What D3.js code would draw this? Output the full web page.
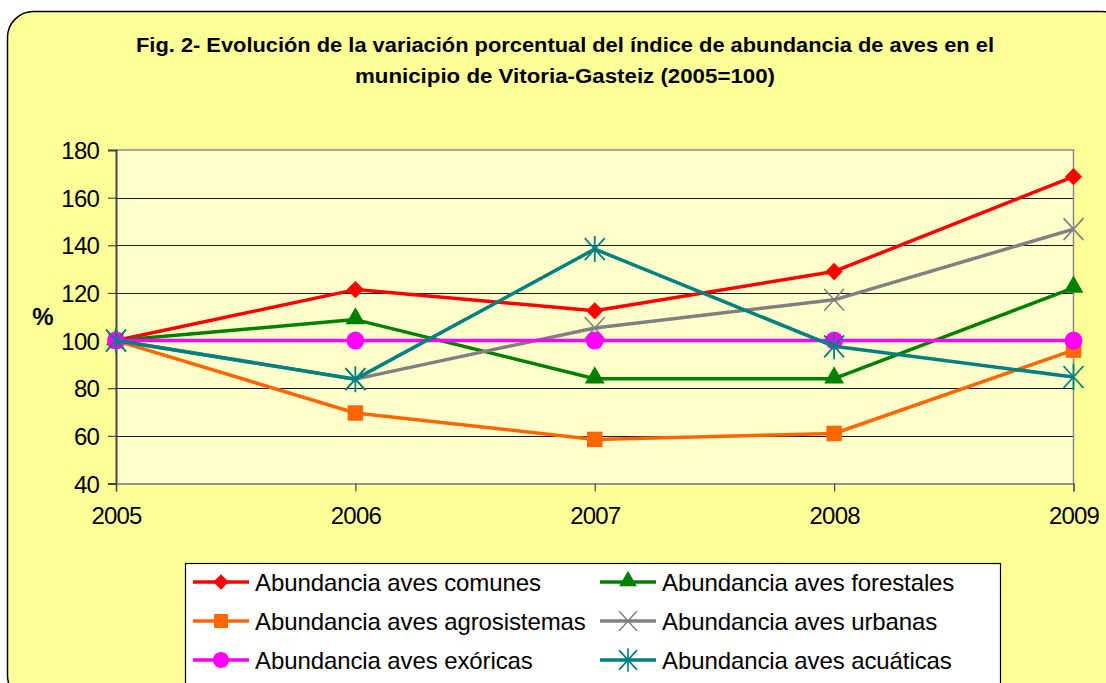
<!doctype html>
<html>
<head>
<meta charset="UTF-8" />
<script src="https://d3js.org/d3.v7.min.js"></script>
<style>
  html, body { margin: 0; padding: 0; background: #ffffff; }
  svg { display: block; font-family: "Liberation Sans", Arial, sans-serif; }
</style>
</head>
<body>
<svg id="chart" width="1106" height="683"></svg>
<script>
(function(){
  "use strict";

  // ---- data ----
  const years = [2005, 2006, 2007, 2008, 2009];
  const yTicks = [40, 60, 80, 100, 120, 140, 160, 180];
  const comunes      = [100, 121.4, 112.5, 129.0, 168.8];
  const forestales   = [100, 108.8, 84.0, 84.0, 122.1];
  const agrosistemas = [100, 69.6, 58.5, 61.0, 96.0];
  const urbanas      = [100, 83.8, 105.3, 117.1, 146.8];
  const exoticas     = [100, 100, 100, 100, 100];
  const acuaticas    = [100, 83.8, 138.4, 97.6, 84.7];

  const seriesNames = [
    "Abundancia aves comunes", "Abundancia aves forestales",
    "Abundancia aves agrosistemas", "Abundancia aves urbanas",
    "Abundancia aves exóricas", "Abundancia aves acuáticas"
  ];
  const seriesValues = [comunes, forestales, agrosistemas, urbanas, exoticas, acuaticas];
  const seriesColors = ["#ff0000", "#008000", "#ff6600", "#808080", "#ff00ff", "#008080"];
  const seriesMarkers = ["diamond", "triangle", "square", "x", "circle", "star"];

  const series = seriesNames.map(function(n, i){
    return { name: n, values: seriesValues[i], color: seriesColors[i], marker: seriesMarkers[i] };
  });

  const svg = d3.select("#chart");

  // outer rounded frame
  svg.append("rect")
     .attr("x", 7.5).attr("y", 11.5)
     .attr("width", 1120).attr("height", 690)
     .attr("rx", 26).attr("ry", 26)
     .attr("fill", "#ffff99")
     .attr("stroke", "#000").attr("stroke-width", 1.5);

  // title
  const title = svg.append("g").attr("font-weight", "bold").attr("font-size", "20.5px")
                   .attr("fill", "#000").attr("text-anchor", "middle");
  title.append("text").attr("x", 565).attr("y", 52)
       .attr("textLength", 858).attr("lengthAdjust", "spacingAndGlyphs")
       .text("Fig. 2- Evolución de la variación porcentual del índice de abundancia de aves en el");
  title.append("text").attr("x", 565).attr("y", 83)
       .attr("textLength", 420).attr("lengthAdjust", "spacingAndGlyphs")
       .text("municipio de Vitoria-Gasteiz (2005=100)");

  // scales
  const x = d3.scaleLinear().domain([2005, 2009]).range([116, 1073.5]);
  const y = d3.scaleLinear().domain([40, 180]).range([483.5, 150]);

  // plot area
  svg.append("rect")
     .attr("x", x(2005)).attr("y", y(180))
     .attr("width", x(2009) - x(2005)).attr("height", y(40) - y(180))
     .attr("fill", "#ffffcc");

  // gridlines
  svg.append("g").selectAll("line")
     .data(yTicks.filter(function(d){ return d > 40 && d < 180; }))
     .enter().append("line")
     .attr("x1", x(2005)).attr("x2", x(2009))
     .attr("y1", function(d){ return Math.round(y(d)) + 0.5; })
     .attr("y2", function(d){ return Math.round(y(d)) + 0.5; })
     .attr("stroke", "#1a1a1a").attr("stroke-width", 1);

  // plot border top/right
  svg.append("path")
     .attr("d", "M" + x(2005) + "," + y(180) + "H" + x(2009) + "V" + y(40))
     .attr("fill", "none").attr("stroke", "#888").attr("stroke-width", 1.5);

  // y axis
  const yAxis = svg.append("g")
     .attr("transform", "translate(" + x(2005) + ",0)")
     .call(d3.axisLeft(y).tickValues(yTicks).tickSize(8).tickPadding(9));
  yAxis.select(".domain").attr("stroke", "#444").attr("stroke-width", 2);
  yAxis.selectAll(".tick line").attr("stroke", "#444").attr("stroke-width", 1.2);
  yAxis.selectAll(".tick text")
       .attr("font-size", "24px").attr("font-family", "Liberation Sans, Arial, sans-serif")
       .attr("fill", "#000").attr("letter-spacing", "-0.8px").attr("dy", "0.36em");

  // x axis
  const xAxis = svg.append("g")
     .attr("transform", "translate(0," + y(40) + ")")
     .call(d3.axisBottom(x).tickValues(years).tickFormat(d3.format("d")).tickSize(8).tickPadding(15));
  xAxis.select(".domain").attr("stroke", "#777").attr("stroke-width", 1.5);
  xAxis.selectAll(".tick line").attr("stroke", "#444").attr("stroke-width", 1.2);
  xAxis.selectAll(".tick text")
       .attr("font-size", "24px").attr("font-family", "Liberation Sans, Arial, sans-serif")
       .attr("fill", "#000").attr("letter-spacing", "-0.8px");

  // y axis title
  svg.append("text").attr("x", 43).attr("y", 325)
     .attr("text-anchor", "middle").attr("font-weight", "bold").attr("font-size", "24px")
     .text("%");

  // marker drawing
  function drawMarker(g, type, color){
    if (type === "diamond") {
      g.append("path").attr("d", d3.symbol().type(d3.symbolSquare).size(150)())
       .attr("transform", "rotate(45)").attr("fill", color);
    } else if (type === "square") {
      g.append("path").attr("d", d3.symbol().type(d3.symbolSquare).size(240)()).attr("fill", color);
    } else if (type === "triangle") {
      g.append("path").attr("d", d3.symbol().type(d3.symbolTriangle).size(170)())
       .attr("transform", "translate(0,-1)").attr("fill", color);
    } else if (type === "circle") {
      g.append("circle").attr("r", 9).attr("fill", color);
    } else if (type === "x") {
      g.append("path").attr("d", "M-10,-11L10,11M-10,11L10,-11")
       .attr("stroke", color).attr("stroke-width", 1.6).attr("fill", "none");
    } else if (type === "star") {
      g.append("path").attr("d", "M-10,-11L10,11M-10,11L10,-11M0,-13V13")
       .attr("stroke", color).attr("stroke-width", 1.8).attr("fill", "none");
    }
  }

  const line = d3.line()
     .x(function(d, i){ return x(years[i]); })
     .y(function(d){ return y(d); });

  series.forEach(function(s){
    const g = svg.append("g");
    g.append("path").attr("d", line(s.values))
     .attr("fill", "none").attr("stroke", s.color).attr("stroke-width", 3.5)
     .attr("stroke-linejoin", "round");
    s.values.forEach(function(v, i){
      const m = g.append("g").attr("transform", "translate(" + x(years[i]) + "," + y(v) + ")");
      drawMarker(m, s.marker, s.color);
    });
  });

  // legend
  const legend = svg.append("g");
  legend.append("rect").attr("x", 185.5).attr("y", 563.5)
        .attr("width", 815).attr("height", 140)
        .attr("fill", "#fff").attr("stroke", "#000").attr("stroke-width", 1.2);
  const colX = [193, 600];
  const rowY = [582, 621, 660];
  series.forEach(function(s, i){
    const cx = colX[i % 2], cy = rowY[Math.floor(i / 2)];
    const g = legend.append("g");
    g.append("line").attr("x1", cx).attr("x2", cx + 56).attr("y1", cy).attr("y2", cy)
     .attr("stroke", s.color).attr("stroke-width", 3.5);
    const m = g.append("g").attr("transform", "translate(" + (cx + 28) + "," + cy + ") scale(0.9)");
    drawMarker(m, s.marker, s.color);
    g.append("text").attr("x", cx + 62).attr("y", cy + 9)
     .attr("font-size", "24px").attr("letter-spacing", "-0.1px").attr("fill", "#000")
     .text(s.name);
  });
})();
</script>
</body>
</html>
